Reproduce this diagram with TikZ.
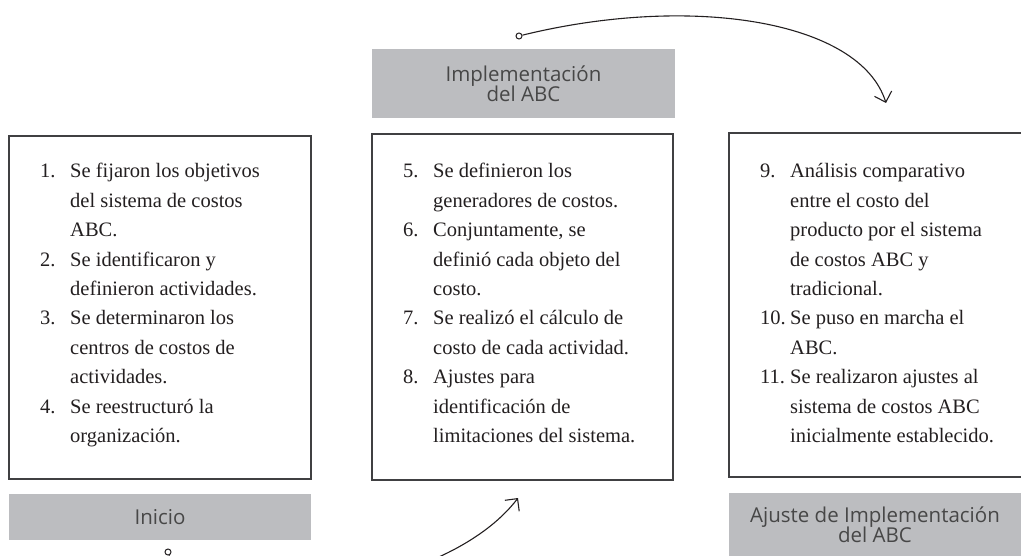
\documentclass[tikz,border=0pt]{standalone}
\usepackage{fontspec}
\setmainfont{Liberation Serif}
\newfontfamily\headfont{Open Sans}
\usetikzlibrary{arrows.meta}
\definecolor{headgray}{RGB}{188,189,192}
\definecolor{inkline}{RGB}{64,64,66}
\definecolor{inktext}{RGB}{35,31,32}

\begin{document}
\begin{tikzpicture}
[x=1pt,y=-1pt,
  boxDecorate/.style={shape=rectangle,draw=inkline,line width=1.1pt,inner sep=0pt},%
  headDecorate/.style={shape=rectangle,fill=headgray,inner sep=0pt,align=center,
    text=black!72,font=\headfont\fontsize{20.5}{20.5}\selectfont},%
  listDecorate/.style={anchor=base west,inner sep=0pt,text=inktext,
    font=\fontsize{20.5}{29.4}\selectfont},%
  dotDecorate/.style={shape=circle,draw=inktext,fill=white,line width=1pt,
    inner sep=0pt,minimum size=6pt},%
  arrowDecorate/.style={draw=inktext,line width=1.1pt,
    -{Straight Barb[length=9pt,width=18pt]}}]
\useasboundingbox (0,0) rectangle (1021,556);
\clip (0,0) rectangle (1021,556);
%% boxes
\foreach \nodename/\x/\y/\w/\h in {
  CajaInicio/160/307.5/302/343, CajaImpl/522.5/307/301/346,
  CajaAjuste/879.5/305/301/344}
{
  \node (\nodename) at (\x,\y) [boxDecorate,minimum width=\w,minimum height=\h] {};
}
%% headers
\foreach \nodename/\x/\y/\w/\h/\texto in {
  Implementacion/523.5/83.5/303/69/{Implementación\\del ABC},
  Inicio/160/517/302/46/{Inicio},
  Ajuste/875/524.5/292/63/{Ajuste de Implementación\\del ABC}}
{
  \node (\nodename) at (\x,\y) [headDecorate,minimum width=\w,minimum height=\h] {\texto};
}
%% lists
\node (ListaInicio) at (40,178) [listDecorate] {%
  \begin{tabular}[t]{@{}p{30pt}@{}l@{}}
  1. & Se fijaron los objetivos\\
     & del sistema de costos\\
     & ABC.\\
  2. & Se identificaron y\\
     & definieron actividades.\\
  3. & Se determinaron los\\
     & centros de costos de\\
     & actividades.\\
  4. & Se reestructuró la\\
     & organización.
  \end{tabular}};
\node (ListaImpl) at (403,178) [listDecorate] {%
  \begin{tabular}[t]{@{}p{30pt}@{}l@{}}
  5. & Se definieron los\\
     & generadores de costos.\\
  6. & Conjuntamente, se\\
     & definió cada objeto del\\
     & costo.\\
  7. & Se realizó el cálculo de\\
     & costo de cada actividad.\\
  8. & Ajustes para\\
     & identificación de\\
     & limitaciones del sistema.
  \end{tabular}};
\node (ListaAjuste) at (760,178) [listDecorate] {%
  \begin{tabular}[t]{@{}p{30pt}@{}l@{}}
  9. & Análisis comparativo\\
     & entre el costo del\\
     & producto por el sistema\\
     & de costos ABC y\\
     & tradicional.\\
  10. & Se puso en marcha el\\
      & ABC.\\
  11. & Se realizaron ajustes al\\
      & sistema de costos ABC\\
      & inicialmente establecido.
  \end{tabular}};
%% arrows
\node (dotTop) at (519,36) [dotDecorate] {};
\coordinate (endTop) at (886,103);
\draw[arrowDecorate] (dotTop) .. controls (690,-6) and (860,20) .. (endTop);
\node (dotBottom) at (168,552) [dotDecorate] {};
\coordinate (endBottom) at (518,498);
\draw[arrowDecorate] (dotBottom) .. controls (190,620) and (440,600) .. (endBottom);
\end{tikzpicture}
\end{document}
